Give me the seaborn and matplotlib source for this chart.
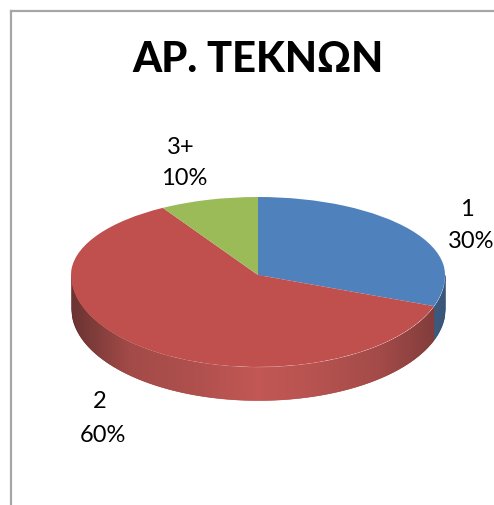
import numpy as np
import matplotlib
matplotlib.use("Agg")
import matplotlib.pyplot as plt
import seaborn as sns
from matplotlib.path import Path
from matplotlib.transforms import Affine2D

# Chart data
title = "ΑΡ. ΤΕΚΝΩΝ"
categories = ["1", "2", "3+"]
percent_labels = ["30%", "60%", "10%"]
# slice sizes
slice_sizes = [30.5, 61, 8.5]

# Look of the pie
pie_colors = sns.color_palette(["#4F81BD", "#C0504D", "#9BBB59"])
W, H = 494, 506
cx, cy = 258, 506 - 276
rx = 187
ry_back = 78
ry_front = 92
depth = 33

sns.set_theme(style="white")
plt.rcParams['font.family'] = ['Lato', 'Open Sans', 'DejaVu Sans']

fig = plt.figure(figsize=(W / 100, H / 100), dpi=100)
ax = fig.add_axes([11 / W, 0, (W - 11) / W, (H - 12) / H])


def squash(k):
    return Affine2D().translate(-cx, -cy).scale(1, k).translate(cx, cy) + ax.transData


# Top face, back half and front half have different heights (perspective)
for k, y0, y1 in [(ry_front / rx, 0, cy + 0.5), (ry_back / rx, cy - 0.5, H)]:
    wedges, _ = ax.pie(slice_sizes, colors=pie_colors, center=(cx, cy), radius=rx,
                       startangle=90, counterclock=False, frame=True,
                       wedgeprops={'linewidth': 0, 'zorder': 3})
    clip = Path([(0, y0), (W, y0), (W, y1), (0, y1), (0, y0)])
    for w in wedges:
        w.set_transform(squash(k))
        # pie turns clipping off for its wedges
        w.set_clip_on(True)
        w.set_clip_path(clip, ax.transData)

ax.set_aspect('auto')
ax.set_xlim(11, W)
ax.set_ylim(0, H - 12)
ax.set_xticks([])
ax.set_yticks([])

# Side of the pie, darker towards the edges
first_angle = np.radians(90 - 360 * slice_sizes[0] / sum(slice_sizes))
split_x = cx + rx * np.cos(first_angle)
edges = np.arange(cx - rx, cx + rx + 1)
for x0, x1 in zip(edges[:-1], edges[1:]):
    xs = np.array([x0, x1])
    u = (xs - cx) / rx
    top = cy - ry_front * np.sqrt(np.clip(1 - u ** 2, 0, 1))
    mid = (x0 + x1) / 2
    um = (mid - cx) / rx
    shade = np.interp(um, [-1, -0.95, -0.68, -0.31, 0, 0.31, 0.65, 0.92, 1],
                      [0.52, 0.56, 0.83, 0.9, 1, 0.93, 0.83, 0.66, 0.6])
    base = pie_colors[0] if mid > split_x else pie_colors[1]
    c = tuple(v * shade for v in base)
    ax.fill_between(xs, top, top - depth, color=c, linewidth=0.4, zorder=2)

# Frame: only left and top lines are there
for side in ['right', 'bottom']:
    ax.spines[side].set_visible(False)
for side in ['left', 'top']:
    ax.spines[side].set_visible(True)
    ax.spines[side].set_color('#A6A6A6')
    ax.spines[side].set_linewidth(1.6)

# Texts
fig.text(258 / W, 1 - 60 / H, title, fontsize=30, fontweight=900, color='black',
         ha='center', va='center')
name_pos = [(467, 210), (100, 402), (181, 148)]
pct_pos = [(471, 242), (103, 435), (184, 179)]
for i in range(3):
    fig.text(name_pos[i][0] / W, 1 - name_pos[i][1] / H, categories[i], fontsize=17,
             color='black', ha='center', va='center')
    fig.text(pct_pos[i][0] / W, 1 - pct_pos[i][1] / H, percent_labels[i], fontsize=17,
             color='black', ha='center', va='center')

fig.savefig("out.png", dpi=100)
